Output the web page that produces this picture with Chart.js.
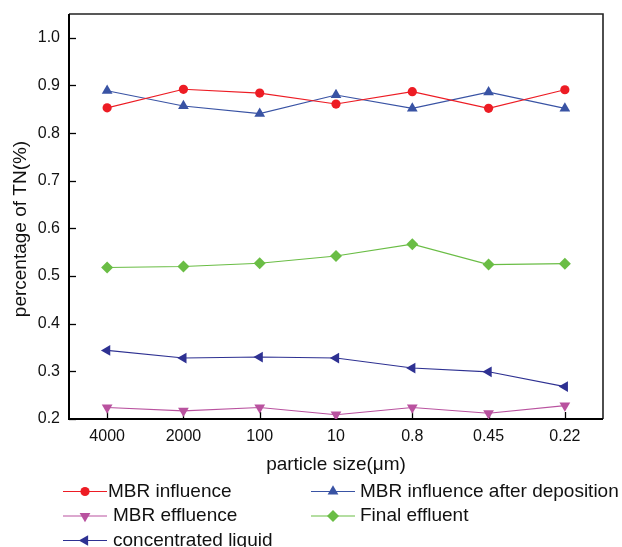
<!DOCTYPE html>
<html><head><meta charset="utf-8">
<script src="https://cdn.jsdelivr.net/npm/chart.js@4.4.0/dist/chart.umd.min.js"></script>
<style>html,body{margin:0;padding:0;background:#fff}canvas{display:block}</style>
</head><body>
<canvas id="c" width="622" height="547"></canvas>
<script>
const categories = ['4000','2000','100','10','0.8','0.45','0.22'];
const mbrInfluence = [0.853,0.892,0.884,0.861,0.887,0.852,0.891];
const mbrInfluenceAfterDeposition = [0.889,0.857,0.841,0.880,0.852,0.886,0.852];
const mbrEffluence = [0.224,0.217,0.224,0.209,0.224,0.212,0.228];
const finalEffluent = [0.518,0.520,0.527,0.542,0.567,0.524,0.526];
const concentratedLiquid = [0.344,0.328,0.330,0.328,0.307,0.299,0.268];
const seriesNames = ['MBR influence','MBR influence after deposition','MBR effluence','Final effluent','concentrated liquid'];
const yMin = 0.2, yMax = 1.05, yStep = 0.1;
const xTitle = 'particle size(\u03bcm)';
const yTitle = 'percentage of TN(%)';

const FONT = "'Liberation Sans', Arial, sans-serif";

function ds(label, data, color, style, rotation, radius) {
  return {
    label, data,
    borderColor: color, backgroundColor: color,
    pointBackgroundColor: color, pointBorderColor: color,
    borderWidth: 1.1, pointStyle: style, pointRotation: rotation,
    pointRadius: radius, pointBorderWidth: 0, tension: 0, fill: false
  };
}

const datasets = [
  ds(seriesNames[0], mbrInfluence, '#ED1C24', 'circle', 0, 4.6),
  ds(seriesNames[1], mbrInfluenceAfterDeposition, '#3953A4', 'triangle', 0, 6.2),
  ds(seriesNames[2], mbrEffluence, '#B9529F', 'triangle', 180, 6.2),
  ds(seriesNames[3], finalEffluent, '#6ABD45', 'rectRot', 0, 6),
  ds(seriesNames[4], concentratedLiquid, '#2E3192', 'triangle', -90, 6.2)
];

const framePlugin = {
  id: 'frame',
  beforeDatasetsDraw(chart) {
    const ctx = chart.ctx, a = chart.chartArea;
    ctx.save();
    ctx.strokeStyle = '#000';
    ctx.lineWidth = 1.3;
    const ys = chart.scales.y, xs = chart.scales.x;
    ys.ticks.forEach((t, i) => {
      const p = Math.round(ys.getPixelForTick(i)) + 0.5;
      ctx.beginPath(); ctx.moveTo(a.left, p); ctx.lineTo(a.left + 7, p); ctx.stroke();
    });
    xs.ticks.forEach((t, i) => {
      const p = Math.round(xs.getPixelForTick(i)) + 0.5;
      ctx.beginPath(); ctx.moveTo(p, a.bottom); ctx.lineTo(p, a.bottom - 7); ctx.stroke();
    });
    ctx.strokeStyle = '#222';
    ctx.lineWidth = 1.6;
    ctx.beginPath(); ctx.moveTo(a.left, a.top); ctx.lineTo(a.right, a.top); ctx.lineTo(a.right, a.bottom); ctx.stroke();
    ctx.strokeStyle = '#000';
    ctx.lineWidth = 2;
    ctx.beginPath(); ctx.moveTo(a.left, a.top); ctx.lineTo(a.left, a.bottom); ctx.lineTo(a.right, a.bottom); ctx.stroke();
    ctx.restore();
  },
  afterDraw(chart) {
    const ctx = chart.ctx;
    ctx.save();
    ctx.fillStyle = '#111';
    ctx.font = '19px ' + FONT;
    ctx.textAlign = 'center'; ctx.textBaseline = 'middle';
    ctx.translate(21, 229); ctx.rotate(-Math.PI / 2);
    ctx.fillText(yTitle, 0, 0);
    ctx.restore();
    // legend
    ctx.save();
    const lineX = [63, 311, 63, 311, 63];
    const textX = [108, 360, 113, 360, 113];
    const rowY = [491.5, 516, 540.5];
    chart.data.datasets.forEach((d, i) => {
      const y = rowY[Math.floor(i / 2)];
      const x0 = lineX[i], x1 = x0 + 44;
      ctx.strokeStyle = d.borderColor; ctx.lineWidth = 1.1;
      ctx.beginPath(); ctx.moveTo(x0, y); ctx.lineTo(x1, y); ctx.stroke();
      ctx.fillStyle = d.pointBackgroundColor; ctx.strokeStyle = d.pointBorderColor;
      Chart.helpers.drawPoint(ctx, {pointStyle: d.pointStyle, rotation: d.pointRotation, radius: d.pointRadius, borderWidth: 0}, (x0 + x1) / 2, y);
      ctx.fillStyle = '#111';
      ctx.font = '19px ' + FONT;
      ctx.textAlign = 'left'; ctx.textBaseline = 'middle';
      ctx.fillText(d.label, textX[i], y);
    });
    ctx.restore();
  }
};

new Chart(document.getElementById('c'), {
  type: 'line',
  data: { labels: categories, datasets },
  options: {
    responsive: false, devicePixelRatio: 1, animation: false,
    layout: { padding: { top: 14, right: 19, left: 0, bottom: 66 } },
    plugins: { legend: { display: false }, tooltip: { enabled: false } },
    scales: {
      x: {
        type: 'category', offset: true,
        grid: { display: false, drawTicks: false },
        border: { display: false },
        ticks: { color: '#111', font: { family: FONT, size: 16 }, padding: 8, maxRotation: 0, autoSkip: false },
        title: { display: true, text: xTitle, color: '#111', font: { family: FONT, size: 19 }, padding: { top: 0, bottom: 5 } },
        afterFit(s) { s.height = 62; s.paddingLeft = 0; s.paddingRight = 0; }
      },
      y: {
        min: yMin, max: yMax,
        grid: { display: false, drawTicks: false },
        border: { display: false },
        ticks: { stepSize: yStep, includeBounds: false, color: '#111', font: { family: FONT, size: 16 }, padding: 9,
          callback: v => Number(v).toFixed(1) },
        afterFit(s) { s.width = 69; s.paddingTop = 0; s.paddingBottom = 0; }
      }
    }
  },
  plugins: [framePlugin]
});
</script>
</body></html>
